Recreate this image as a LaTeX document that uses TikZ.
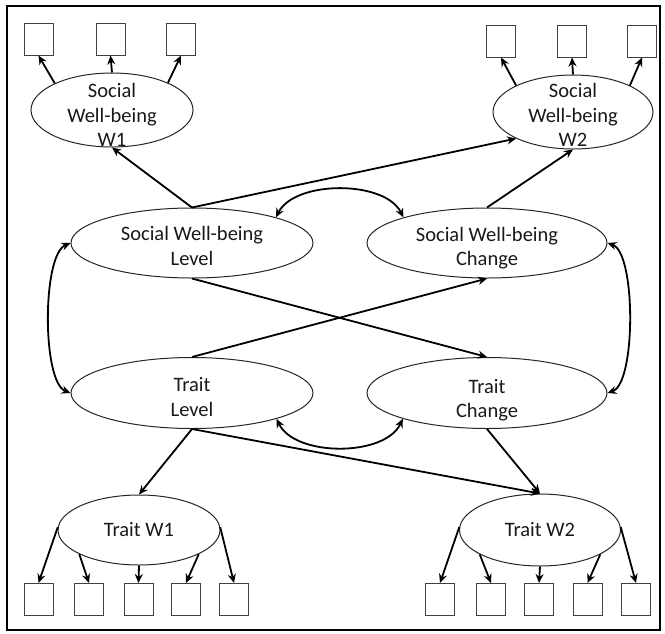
\documentclass[tikz,border=0pt]{standalone}
\usepackage{fontspec}
\setmainfont{Carlito}
\usetikzlibrary{arrows.meta,shapes.geometric}
\begin{document}
\begin{tikzpicture}[x=1pt,y=-1pt,
  lat/.style={draw=black!85, line width=1pt, ellipse, inner sep=0pt},
  obs/.style={draw=black!75, line width=1pt, rectangle, minimum width=29pt, minimum height=32pt, inner sep=0pt},
  lbl/.style={font=\fontsize{20.5}{24.5}\selectfont, align=center, inner sep=0pt, text=black!90},
  arr/.style={-{Stealth[length=9pt,width=8pt]}, line width=1.8pt},
  darr/.style={{Stealth[length=9pt,width=8pt]}-{Stealth[length=9pt,width=8pt]}, line width=1.8pt}]
\useasboundingbox (0,0) rectangle (665,633);
\draw[line width=2.5pt] (7,6) rectangle (660,630);

% latent ellipses
\node[lat, minimum width=162pt, minimum height=74pt] (sw1) at (112,110) {};
\node[lat, minimum width=160pt, minimum height=74pt] (sw2) at (573,112) {};
\node[lat, minimum width=242pt, minimum height=70pt] (swl) at (192,243) {};
\node[lat, minimum width=240pt, minimum height=70pt] (swc) at (487,243) {};
\node[lat, minimum width=242pt, minimum height=71pt] (tl) at (192,393) {};
\node[lat, minimum width=240pt, minimum height=71pt] (tc) at (487,393) {};
\node[lat, minimum width=162pt, minimum height=70pt] (tw1) at (139,530) {};
\node[lat, minimum width=161pt, minimum height=72pt] (tw2) at (540,530) {};

% labels
\node[lbl] (sw1t) at (112,115) {Social\\Well-being\\W1};
\node[lbl] (sw2t) at (573,115) {Social\\Well-being\\W2};
\node[lbl] (swlt) at (192,246) {Social Well-being\\Level};
\node[lbl] (swct) at (487,248) {Social Well-being\\Change};
\node[lbl] (tlt) at (192,397) {Trait\\Level};
\node[lbl] (tct) at (487,400) {Trait\\Change};
\node[lbl] (tw1t) at (139,530) {Trait W1};
\node[lbl] (tw2t) at (540,530) {Trait W2};

% indicator boxes
\node[obs] (b1) at (38.5,39) {};
\node[obs] (b2) at (110.5,39) {};
\node[obs] (b3) at (181,39) {};
\node[obs] (b4) at (501,41) {};
\node[obs] (b5) at (572,41) {};
\node[obs] (b6) at (642,41) {};
\node[obs] (c1) at (38.5,599.5) {};
\node[obs] (c2) at (89,599.5) {};
\node[obs] (c3) at (138.5,599.5) {};
\node[obs] (c4) at (186,599.5) {};
\node[obs] (c5) at (234,599.5) {};
\node[obs] (d1) at (440,599.5) {};
\node[obs] (d2) at (491,599.5) {};
\node[obs] (d3) at (539,599.5) {};
\node[obs] (d4) at (587.5,599.5) {};
\node[obs] (d5) at (636,599.5) {};

% loadings top
\draw[arr] (sw1.155) -- (b1.south);
\draw[arr] (sw1.north) -- (b2.south);
\draw[arr] (sw1.26) -- (b3.south);
\draw[arr] (sw2.155) -- (b4.south);
\draw[arr] (sw2.north) -- (b5.south);
\draw[arr] (sw2.25) -- (b6.south);

% loadings bottom
\draw[arr] (tw1.178) -- (c1.north);
\draw[arr] (tw1.202) -- (c2.north);
\draw[arr] (tw1.south) -- (c3.north);
\draw[arr] (tw1.338) -- (c4.north);
\draw[arr] (tw1.2) -- (c5.north);
\draw[arr] (tw2.178) -- (d1.north);
\draw[arr] (tw2.202) -- (d2.north);
\draw[arr] (tw2.south) -- (d3.north);
\draw[arr] (tw2.338) -- (d4.north);
\draw[arr] (tw2.2) -- (d5.north);

% growth paths
\draw[arr] (swl.north) -- (sw1.south);
\draw[arr] (swl.north) -- (sw2.205);
\draw[arr] (swc.north) -- (sw2.south);
\draw[arr] (swl.south) -- (tc.north);
\draw[arr] (tl.north) -- (swc.south);
\draw[arr] (tl.south) -- (tw1.north);
\draw[arr] (tl.south) -- (tw2.north);
\draw[arr] (tc.south) -- (tw2.north);

% covariances
\draw[darr] (swl.17) .. controls (295,180) and (385,180) .. (swc.163);
\draw[darr] (tl.-17) .. controls (295,457) and (385,457) .. (tc.197);
\draw[darr] (swl.west) .. controls (42,255) and (42,382) .. (tl.west);
\draw[darr] (swc.east) .. controls (636,253) and (636,383) .. (tc.east);
\end{tikzpicture}
\end{document}
